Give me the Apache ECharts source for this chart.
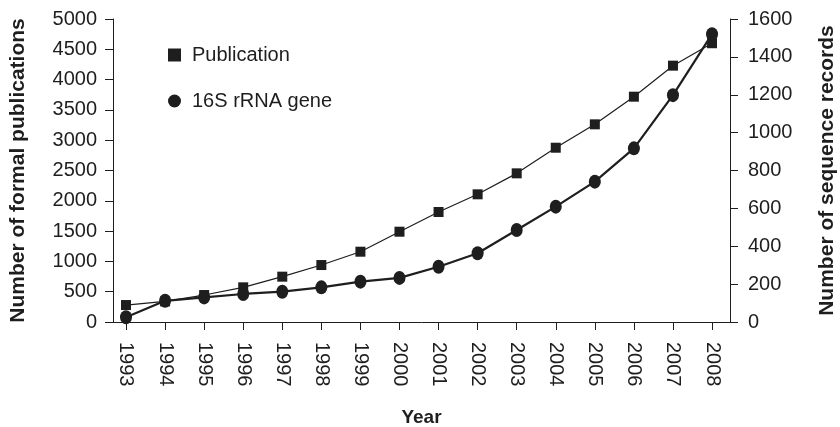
<!DOCTYPE html>
<html><head><meta charset="utf-8">
<script src="https://cdn.jsdelivr.net/npm/echarts@6/dist/echarts.min.js"></script>
<style>html,body{margin:0;padding:0;background:#fff}#c{width:840px;height:427px}</style>
</head><body><div id="c"></div>
<script>
const years = [1993,1994,1995,1996,1997,1998,1999,2000,2001,2002,2003,2004,2005,2006,2007,2008];
const publications = [280,340,445,572,748,940,1160,1490,1815,2107,2453,2876,3262,3718,4230,4600];
const sequences = [25,112,130,148,160,183,213,233,292,363,486,609,741,917,1198,1520];
const leftTicks = [0,500,1000,1500,2000,2500,3000,3500,4000,4500,5000];
const rightTicks = [0,200,400,600,800,1000,1200,1400,1600];

const ink = '#1e1e1e';
const font = 'Liberation Sans, Arial, sans-serif';
const chart = echarts.init(document.getElementById('c'));
chart.setOption({
  animation: false,
  backgroundColor: '#fff',
  textStyle: {fontFamily: font, color: ink},
  grid: {left: 113, right: 110, top: 19, bottom: 105, containLabel: false, outerBoundsMode: 'none'},
  legend: {
    orient: 'vertical', left: 163, top: 40, itemGap: 26, itemWidth: 13, itemHeight: 13,
    textStyle: {fontSize: 20, color: ink, fontFamily: font, padding: [0, 0, 0, 6]},
    data: [{name: 'Publication', icon: 'rect'}, {name: '16S rRNA gene', icon: 'circle'}]
  },
  xAxis: {
    type: 'value', min: 1992.667, max: 2008.46,
    name: 'Year', nameLocation: 'middle', nameGap: 86,
    nameTextStyle: {fontSize: 19, fontWeight: 'bold', color: ink},
    splitLine: {show: false},
    axisLine: {lineStyle: {color: ink, width: 1}},
    axisTick: {customValues: years, length: 8, lineStyle: {color: ink}},
    axisLabel: {customValues: years, rotate: -90, margin: 20, fontSize: 20, color: ink,
      formatter: v => String(Math.round(v))}
  },
  yAxis: [{
    type: 'value', min: 0, max: 5000, interval: 500,
    name: 'Number of formal publications', nameLocation: 'middle', nameGap: 84,
    nameTextStyle: {fontSize: 21, fontWeight: 'bold', color: ink},
    splitLine: {show: false},
    axisLine: {show: true, lineStyle: {color: ink}},
    axisTick: {show: true, length: 8, lineStyle: {color: ink}},
    axisLabel: {fontSize: 20, color: ink, margin: 16, customValues: leftTicks, formatter: v => String(v)}
  }, {
    type: 'value', min: 0, max: 1600, interval: 200, position: 'right',
    name: 'Number of sequence records', nameLocation: 'middle', nameGap: 87, nameRotate: 90,
    nameTextStyle: {fontSize: 21, fontWeight: 'bold', color: ink},
    splitLine: {show: false},
    axisLine: {show: true, lineStyle: {color: ink}},
    axisTick: {show: true, length: 8, lineStyle: {color: ink}},
    axisLabel: {fontSize: 20, color: ink, margin: 18, customValues: rightTicks, formatter: v => String(v)}
  }],
  series: [{
    name: 'Publication', type: 'line', yAxisIndex: 0,
    data: years.map((y, i) => [y, publications[i]]),
    symbol: 'rect', symbolSize: 10,
    lineStyle: {color: ink, width: 1.2}, itemStyle: {color: ink}
  }, {
    name: '16S rRNA gene', type: 'line', yAxisIndex: 1,
    data: years.map((y, i) => [y, sequences[i]]),
    symbol: 'circle', symbolSize: [12, 14],
    lineStyle: {color: ink, width: 2.2}, itemStyle: {color: ink}
  }]
});
</script></body></html>
